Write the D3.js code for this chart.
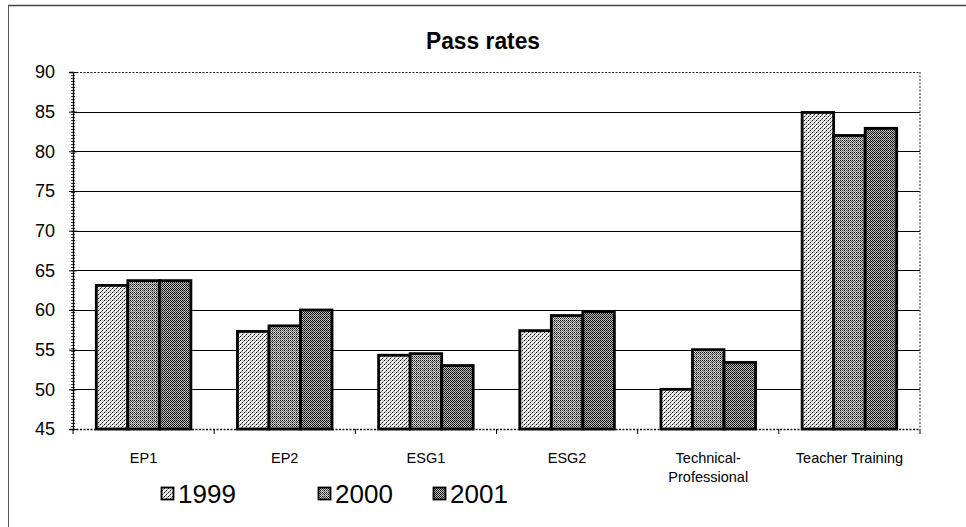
<!DOCTYPE html>
<html><head><meta charset="utf-8">
<script src="https://cdn.jsdelivr.net/npm/d3@7/dist/d3.min.js"></script>
<style>body{margin:0;background:#fff}svg{display:block}</style>
</head><body>
<script>
const categories = ["EP1","EP2","ESG1","ESG2","Technical-Professional","Teacher Training"];
const seriesNames = ["1999","2000","2001"];
const v1999 = [63.1, 57.3, 54.3, 57.4, 50.0, 84.9];
const v2000 = [63.7, 58.0, 54.5, 59.3, 55.0, 82.0];
const v2001 = [63.7, 60.0, 53.0, 59.8, 53.4, 82.9];
const yTicks = [45,50,55,60,65,70,75,80,85,90];
const title = "Pass rates";

(function () {
const W = 966, H = 527;
const FONT = "Liberation Sans, Arial, sans-serif";
const svg = d3.select("body").append("svg").attr("width", W).attr("height", H);
const defs = svg.append("defs");

function pat(id, bg, pts, size) {
  const p = defs.append("pattern").attr("id", id).attr("patternUnits", "userSpaceOnUse")
    .attr("width", size).attr("height", size);
  p.append("rect").attr("width", size).attr("height", size).attr("fill", bg);
  pts.forEach(([x, y, c]) => p.append("rect").attr("x", x).attr("y", y).attr("width", 1).attr("height", 1).attr("fill", c || "#000"));
}
pat("p1999", "#eeeeee", [[0,0],[2,2],[1,3,"#666"],[3,1,"#888"],[2,0,"#bbb"]], 4);
pat("p2000", "#d6d6d6", [[0,0],[2,0],[1,1,"#444"],[3,1,"#444"],[0,2],[2,2,"#333"],[1,3,"#777"],[3,3,"#777"]], 4);
pat("p2001", "#c4c4c4", [[0,0],[2,0],[1,1],[3,1],[0,2],[2,2],[1,3,"#333"],[3,3,"#333"]], 4);
const fills = ["url(#p1999)", "url(#p2000)", "url(#p2001)"];

// outer frame (partial border as in the scan)
svg.append("line").attr("x1", 8).attr("x2", 966).attr("y1", 5.5).attr("y2", 5.5).attr("stroke", "#444").attr("stroke-width", 1.5);
svg.append("line").attr("x1", 8.5).attr("x2", 8.5).attr("y1", 5).attr("y2", 527).attr("stroke", "#555").attr("stroke-width", 1);

const pL = 73, pR = 920, pT = 72, pB = 429;
const y = d3.scaleLinear().domain([45, 90]).range([pB, pT]);
const x0 = d3.scaleBand().domain(categories).range([pL, pR]).paddingInner(0.33).paddingOuter(0.165);
const x1 = d3.scaleBand().domain(seriesNames).range([0, x0.bandwidth()]);

// gridlines
svg.append("g").selectAll("line").data(yTicks.filter(t => t > 45 && t < 90)).join("line")
  .attr("x1", pL).attr("x2", pR).attr("y1", d => Math.round(y(d)) + 0.5).attr("y2", d => Math.round(y(d)) + 0.5)
  .attr("stroke", "#000").attr("stroke-width", 1.2);

// plot-area border (dotted top/right)
svg.append("line").attr("x1", pL).attr("x2", pR).attr("y1", y(90) + 0.5).attr("y2", y(90) + 0.5)
  .attr("stroke", "#222").attr("stroke-width", 1.2).attr("stroke-dasharray", "2,1.5");
svg.append("line").attr("x1", pR).attr("x2", pR).attr("y1", y(90)).attr("y2", pB)
  .attr("stroke", "#444").attr("stroke-width", 1.2).attr("stroke-dasharray", "2,1.5");

// bars
const data = [v1999, v2000, v2001];
const g = svg.append("g");
categories.forEach((c, i) => {
  seriesNames.forEach((s, j) => {
    g.append("rect")
      .attr("x", x0(c) + x1(s)).attr("width", x1.bandwidth())
      .attr("y", y(data[j][i])).attr("height", y(45) - y(data[j][i]))
      .attr("fill", fills[j]).attr("stroke", "#000").attr("stroke-width", 2.8);
  });
});

// bottom axis (dotted) with category separator ticks
svg.append("line").attr("x1", pL).attr("x2", pR).attr("y1", pB + 0.5).attr("y2", pB + 0.5)
  .attr("stroke", "#111").attr("stroke-width", 1.5).attr("stroke-dasharray", "2,1.5");
const step = x0.step();
svg.append("g").selectAll("line").data(d3.range(categories.length + 1)).join("line")
  .attr("x1", i => pL + i * step).attr("x2", i => pL + i * step)
  .attr("y1", pB).attr("y2", pB + 5).attr("stroke", "#000");

// left axis
const yAxis = d3.axisLeft(y).tickValues(yTicks).tickSize(4).tickPadding(14).tickFormat(d3.format("d"));
const ya = svg.append("g").attr("transform", `translate(${pL},0)`).call(yAxis);
ya.select(".domain").attr("stroke", "#000").attr("stroke-width", 1.3);
ya.selectAll(".tick line").attr("stroke", "#000").attr("x2", 4).attr("x1", -4);
ya.selectAll("text").attr("font-family", FONT).attr("font-size", 18).attr("fill", "#000");
// dense minor tick texture on the axis line
svg.append("line").attr("x1", pL).attr("x2", pL).attr("y1", pT).attr("y2", pB)
  .attr("stroke", "#000").attr("stroke-width", 4).attr("stroke-dasharray", "0.8,2.2");

// x labels
const xl = svg.append("g").attr("font-family", FONT).attr("font-size", 14.5).attr("text-anchor", "middle");
categories.forEach(c => {
  const cx = x0(c) + x0.bandwidth() / 2;
  const lines = c.includes("-") ? [c.slice(0, c.indexOf("-") + 1), c.slice(c.indexOf("-") + 1)] : [c];
  const t = xl.append("text").attr("x", cx).attr("y", 463);
  lines.forEach((ln, k) => t.append("tspan").attr("x", cx).attr("dy", k ? 19 : 0).text(ln));
});

// title
svg.append("text").attr("x", 483).attr("y", 49).attr("text-anchor", "middle")
  .attr("font-family", FONT).attr("font-weight", "bold").attr("font-size", 24)
  .attr("transform", "translate(483,0) scale(0.95,1) translate(-483,0)")
  .text(title);

// legend
const legX = [161, 318, 433];
const lg = svg.append("g");
seriesNames.forEach((s, j) => {
  lg.append("rect").attr("x", legX[j] + 0.5).attr("y", 487.5).attr("width", 12).attr("height", 12)
    .attr("fill", fills[j]).attr("stroke", "#000").attr("stroke-width", 1.8);
  lg.append("text").attr("x", legX[j] + 17).attr("y", 503).attr("font-family", FONT)
    .attr("font-size", 26).text(s);
});
})();
</script>
</body></html>
